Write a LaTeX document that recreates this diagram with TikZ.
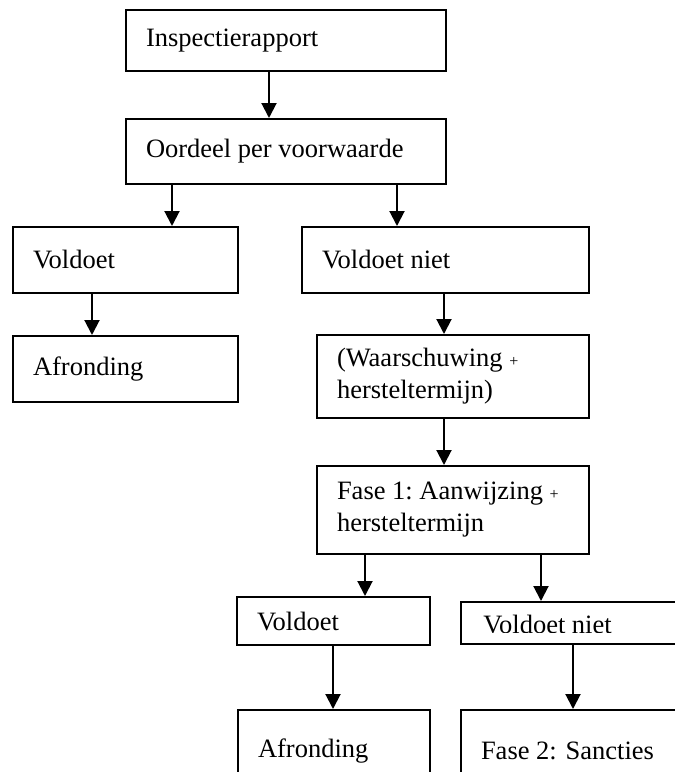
\documentclass[tikz,border=0pt]{standalone}
\usepackage{fontspec}
\setmainfont{Liberation Serif}
\usetikzlibrary{arrows.meta}

\tikzset{
  vak/.style={draw, line width=1pt, anchor=north west, align=flush left,
    inner xsep=10pt, inner ysep=0pt, font=\fontsize{13.25}{16}\selectfont},
  tekst/.style={anchor=base west, inner sep=0pt, font=\fontsize{13.25}{16}\selectfont},
  pijl/.style={line width=1pt, -{Triangle[width=7.5pt,length=7.5pt]}}
}
\newcommand{\plusje}{{\fontsize{8}{8}\selectfont +}}

\begin{document}
\begin{tikzpicture}[x=0.5pt, y=-0.5pt]

\useasboundingbox (0,0) rectangle (675,772);
\clip (0,0) rectangle (675,772);

% Boxes
\node[vak, text width=140pt, minimum height=30.5pt] (rapport) at (125,9) {Inspectierapport};
\node[vak, text width=140pt, minimum height=32.5pt] (oordeel) at (125,118) {Oordeel per voorwaarde};

\node[vak, text width=92.5pt, minimum height=33pt] (voldoet) at (12,226) {Voldoet};
\node[vak, text width=92.5pt, minimum height=33pt] (afronding) at (12,335) {Afronding};

\node[vak, text width=123.5pt, minimum height=33pt] (voldoetniet) at (301,226) {Voldoet niet};
\node[vak, text width=116pt, minimum height=41.5pt] (waarschuwing) at (316,334)
      {(Waarschuwing~\plusje\\hersteltermijn)};
\node[vak, text width=116pt, minimum height=44pt] (fase1) at (316,465)
      {Fase~1:~Aanwijzing~\plusje\\hersteltermijn};

\node[vak, text width=76.5pt, minimum height=24pt] (voldoet2) at (236,596) {Voldoet};
\node[vak, text width=95pt, minimum height=21pt] (voldoetniet2) at (460,601) {};
\node[vak, text width=76pt, minimum height=41pt] (afronding2) at (237,709) {Afronding};
\node[vak, text width=95pt, minimum height=41pt] (fase2) at (460,709) {Fase 2: Sancties};

% Text of the last box is cut off at its base line
\begin{scope}
  \clip (voldoetniet2.north west) rectangle (675,632);
  \node[tekst] (voldoetniet2tekst) at (483,633) {Voldoet niet};
\end{scope}

% Arrows
\draw[pijl] (269,0 |- rapport.south) -- (269,0 |- oordeel.north);
\draw[pijl] (172,0 |- oordeel.south) -- (172,0 |- voldoet.north);
\draw[pijl] (397,0 |- oordeel.south) -- (397,0 |- voldoetniet.north);
\draw[pijl] (92,0 |- voldoet.south) -- (92,0 |- afronding.north);
\draw[pijl] (444,0 |- voldoetniet.south) -- (444,0 |- waarschuwing.north);
\draw[pijl] (444,0 |- waarschuwing.south) -- (444,0 |- fase1.north);
\draw[pijl] (365,0 |- fase1.south) -- (365,0 |- voldoet2.north);
\draw[pijl] (541,0 |- fase1.south) -- (541,0 |- voldoetniet2.north);
\draw[pijl] (333,0 |- voldoet2.south) -- (333,0 |- afronding2.north);
\draw[pijl] (573,0 |- voldoetniet2.south) -- (573,0 |- fase2.north);

\end{tikzpicture}
\end{document}
